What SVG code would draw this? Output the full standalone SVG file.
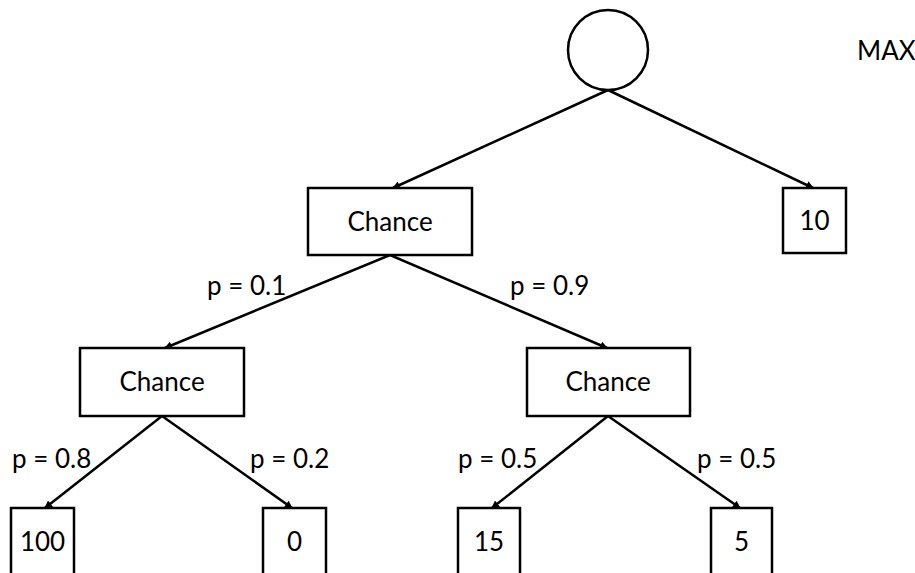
<svg xmlns="http://www.w3.org/2000/svg" width="915" height="573" viewBox="0 0 915 573">
<defs>
<marker id="ah" markerWidth="8" markerHeight="8" refX="7" refY="4" orient="auto" markerUnits="userSpaceOnUse">
<path d="M0,0 L8,4 L0,8 Z" fill="#000"/>
</marker>
<style>
.n{fill:#fff;stroke:#000;stroke-width:2.5}
.t{font-family:Lato,"Open Sans",sans-serif;font-size:26px;fill:#000}
.m{text-anchor:middle}
.c line{stroke:#000;stroke-width:2.5;marker-end:url(#ah)}
</style>
</defs>
<rect width="915" height="573" fill="#fff"/>
<g class="c" id="connectors">
<line x1="608" y1="90" x2="393" y2="188"/>
<line x1="608" y1="90" x2="813" y2="188"/>
<line x1="390" y1="255" x2="165" y2="348"/>
<line x1="390" y1="255" x2="607" y2="348"/>
<line x1="162" y1="416" x2="45" y2="508"/>
<line x1="162" y1="416" x2="292" y2="508"/>
<line x1="608" y1="416" x2="492" y2="508"/>
<line x1="608" y1="416" x2="740" y2="508"/>
</g>
<g id="root"><circle class="n" cx="608" cy="50" r="40"/></g>
<g id="max-label"><text class="t" x="857" y="60">MAX</text></g>
<g id="chance-top"><rect class="n" x="308" y="188" width="164" height="67"/><text class="t m" x="390" y="231">Chance</text></g>
<g id="leaf-10"><rect class="n" x="783" y="188" width="63" height="65"/><text class="t m" x="814.5" y="230">10</text></g>
<g id="chance-left"><rect class="n" x="80" y="348" width="164" height="68"/><text class="t m" x="162" y="391">Chance</text></g>
<g id="chance-right"><rect class="n" x="527" y="348" width="163" height="68"/><text class="t m" x="608" y="391">Chance</text></g>
<g id="leaf-100"><rect class="n" x="11" y="508" width="63" height="80"/><text class="t m" x="42.5" y="551">100</text></g>
<g id="leaf-0"><rect class="n" x="263" y="508" width="63" height="80"/><text class="t m" x="294.5" y="551">0</text></g>
<g id="leaf-15"><rect class="n" x="458" y="508" width="62" height="80"/><text class="t m" x="489" y="551">15</text></g>
<g id="leaf-5"><rect class="n" x="711" y="508" width="61" height="80"/><text class="t m" x="741.5" y="551">5</text></g>
<g id="labels">
<text class="t" x="207" y="295">p = 0.1</text>
<text class="t" x="510" y="295">p = 0.9</text>
<text class="t" x="12" y="468">p = 0.8</text>
<text class="t" x="250" y="468">p = 0.2</text>
<text class="t" x="458" y="468">p = 0.5</text>
<text class="t" x="697" y="468">p = 0.5</text>
</g>
</svg>
